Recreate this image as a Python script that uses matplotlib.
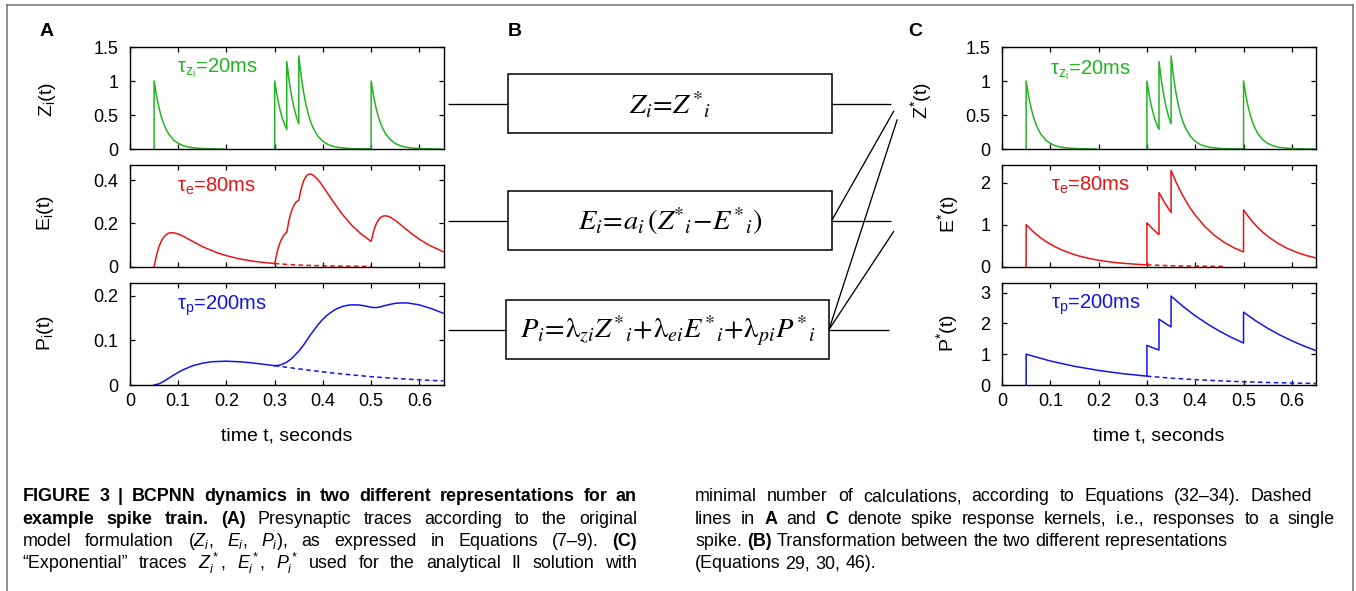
import matplotlib
matplotlib.use('Agg')
import matplotlib.pyplot as plt
from matplotlib.patches import Rectangle
from matplotlib.ticker import FuncFormatter

# ---------------- data ----------------
# Z trace (identical in A and C)
Z_t1 = [0.05, 0.05, 0.055, 0.06, 0.065, 0.07, 0.075, 0.08, 0.09, 0.10, 0.11, 0.12, 0.13, 0.15, 0.17, 0.195]
Z_v1 = [0, 1, 0.779, 0.607, 0.472, 0.368, 0.287, 0.223, 0.135, 0.082, 0.050, 0.030, 0.018, 0.007, 0.0025, 0]
Z_t2 = [0.30, 0.30, 0.305, 0.31, 0.315, 0.32, 0.325, 0.325, 0.33, 0.335, 0.34, 0.345, 0.35, 0.35,
        0.355, 0.36, 0.365, 0.37, 0.375, 0.38, 0.39, 0.40, 0.41, 0.42, 0.43, 0.45, 0.47, 0.50, 0.50,
        0.505, 0.51, 0.515, 0.52, 0.525, 0.53, 0.54, 0.55, 0.56, 0.57, 0.58, 0.60, 0.62, 0.645]
Z_v2 = [0, 1, 0.779, 0.607, 0.472, 0.368, 0.287, 1.287, 1.002, 0.781, 0.608, 0.473, 0.369, 1.369,
        1.066, 0.830, 0.647, 0.504, 0.392, 0.305, 0.185, 0.112, 0.068, 0.041, 0.025, 0.009, 0.003, 0.001, 1.0,
        0.779, 0.607, 0.472, 0.368, 0.287, 0.223, 0.135, 0.082, 0.050, 0.030, 0.018, 0.007, 0.0025, 0.0]

# E trace (panel A)
E_t1 = [0.05, 0.055, 0.06, 0.065, 0.07, 0.075, 0.08, 0.085, 0.09, 0.10, 0.11, 0.12, 0.13, 0.15, 0.17,
        0.185, 0.20, 0.225, 0.25, 0.275, 0.30]
E_v1 = [0, 0.0535, 0.092, 0.119, 0.137, 0.148, 0.155, 0.157, 0.157, 0.151, 0.141, 0.129, 0.117, 0.093,
        0.074, 0.061, 0.051, 0.037, 0.027, 0.020, 0.0146]
E_t2 = [0.30, 0.305, 0.31, 0.315, 0.32, 0.325, 0.33, 0.335, 0.34, 0.345, 0.35, 0.355, 0.36, 0.365, 0.37,
        0.375, 0.38, 0.39, 0.40, 0.42, 0.44, 0.46, 0.48, 0.50, 0.505, 0.51, 0.515, 0.52, 0.525, 0.53,
        0.535, 0.54, 0.55, 0.56, 0.57, 0.58, 0.60, 0.62, 0.65]
E_v2 = [0.0146, 0.0672, 0.1049, 0.131, 0.1484, 0.1591, 0.2182, 0.2587, 0.2848, 0.3001, 0.3073, 0.3618,
        0.3971, 0.4175, 0.4268, 0.4279, 0.4229, 0.4013, 0.3713, 0.3044, 0.2427, 0.1912, 0.1496, 0.1169,
        0.1634, 0.1953, 0.2159, 0.2281, 0.234, 0.2351, 0.2328, 0.2281, 0.2137, 0.1962, 0.1777, 0.1595,
        0.1268, 0.0996, 0.0688]
E_dash_t = [0.30, 0.325, 0.35, 0.375, 0.40, 0.45, 0.50]
E_dash_v = [0.0146, 0.0107, 0.0078, 0.0057, 0.0042, 0.0022, 0.0012]

# P trace (panel A)
P_t1 = [0.05, 0.06, 0.07, 0.08, 0.09, 0.10, 0.11, 0.13, 0.15, 0.17, 0.20, 0.23, 0.25, 0.275, 0.30]
P_v1 = [0, 0.0025, 0.0081, 0.0149, 0.0219, 0.0283, 0.0341, 0.0431, 0.0489, 0.0522, 0.0534, 0.0519,
        0.0499, 0.0468, 0.0433]
P_t2 = [0.30, 0.31, 0.32, 0.325, 0.335, 0.35, 0.36, 0.375, 0.39, 0.40, 0.41, 0.425, 0.44, 0.45, 0.46,
        0.475, 0.49, 0.50, 0.51, 0.52, 0.525, 0.54, 0.55, 0.56, 0.575, 0.60, 0.625, 0.65]
P_v2 = [0.0433, 0.0444, 0.0485, 0.0511, 0.0592, 0.0759, 0.0897, 0.1136, 0.1355, 0.1477, 0.1578, 0.1690,
        0.1759, 0.1785, 0.1797, 0.1794, 0.1767, 0.1743, 0.1734, 0.1754, 0.1771, 0.1809, 0.1831, 0.1839,
        0.1841, 0.1796, 0.1713, 0.1606]
P_dash_t = [0.30, 0.325, 0.35, 0.375, 0.40, 0.425, 0.45, 0.475, 0.50, 0.525, 0.55, 0.575, 0.60, 0.625, 0.65]
P_dash_v = [0.0433, 0.0397, 0.0361, 0.0327, 0.0294, 0.0264, 0.0236, 0.0211, 0.0187, 0.0167, 0.0148,
            0.0132, 0.0116, 0.0103, 0.0091]

# E* trace (panel C)
Es_t = [0.05, 0.05, 0.06, 0.07, 0.08, 0.09, 0.10, 0.12, 0.14, 0.16, 0.18, 0.20, 0.225, 0.25, 0.275, 0.30,
        0.30, 0.31, 0.32, 0.325, 0.325, 0.335, 0.345, 0.35, 0.35, 0.36, 0.37, 0.38, 0.39, 0.40, 0.42,
        0.44, 0.46, 0.48, 0.50, 0.50, 0.51, 0.52, 0.53, 0.54, 0.55, 0.57, 0.59, 0.61, 0.63, 0.65]
Es_v = [0, 1, 0.8825, 0.7788, 0.6873, 0.6065, 0.5353, 0.4169, 0.3247, 0.2528, 0.1969, 0.1534, 0.1122,
        0.0821, 0.0601, 0.0439, 1.0439, 0.9213, 0.8130, 0.7637, 1.7637, 1.5565, 1.3736, 1.2903, 2.2903,
        2.0212, 1.7837, 1.5742, 1.3892, 1.2260, 0.9548, 0.7436, 0.5791, 0.4510, 0.3513, 1.3513, 1.1925,
        1.0524, 0.9288, 0.8196, 0.7234, 0.5634, 0.4388, 0.3417, 0.2661, 0.2073]
Es_dash_t = [0.30, 0.35, 0.40, 0.46]
Es_dash_v = [0.0439, 0.0235, 0.0126, 0.0059]

# P* trace (panel C)
Ps_t = [0.05, 0.05, 0.10, 0.15, 0.20, 0.25, 0.30, 0.30, 0.3125, 0.325, 0.325, 0.3375, 0.35, 0.35, 0.375,
        0.40, 0.425, 0.45, 0.475, 0.50, 0.50, 0.525, 0.55, 0.575, 0.60, 0.625, 0.65]
Ps_v = [0, 1, 0.7788, 0.6065, 0.4724, 0.3679, 0.2865, 1.2865, 1.2069, 1.1353, 2.1353, 2.0059, 1.8844,
        2.8844, 2.5455, 2.2464, 1.9825, 1.7496, 1.5440, 1.3626, 2.3626, 2.0850, 1.8400, 1.6238, 1.4330,
        1.2646, 1.1160]
Ps_dash_t = [0.30, 0.35, 0.40, 0.45, 0.50, 0.55, 0.60, 0.65]
Ps_dash_v = [0.2865, 0.2231, 0.1738, 0.1353, 0.1054, 0.0821, 0.0639, 0.0498]

x_ticks = [0, 0.1, 0.2, 0.3, 0.4, 0.5, 0.6]
yt_Z = [0, 0.5, 1, 1.5]
yt_E = [0, 0.2, 0.4]
yt_P = [0, 0.1, 0.2]
yt_Es = [0, 1, 2]
yt_Ps = [0, 1, 2, 3]

eq_texts = [r'$Z_i\!=\!Z\,{}^{*}{}_{i}$',
            r'$E_i\!=\!a_i\,(Z{}^{*}{}_{i}\!-\!E\,{}^{*}{}_{i})$',
            r'$P_i\!=\!\mathrm{\lambda}_{zi}Z\,{}^{*}{}_{i}\!+\!\mathrm{\lambda}_{ei}E\,{}^{*}{}_{i}'
            r'\!+\!\mathrm{\lambda}_{pi}P\,{}^{*}{}_{i}$']

cap_left = [
    ([("FIGURE 3 | BCPNN dynamics in two different representations for an", "bold")], True),
    ([("example spike train. (A)", "bold"), ("Presynaptic traces according to the original", "normal")], True),
    ([("model formulation ($Z_i$, $E_i$, $P_i$), as expressed in Equations (7\u20139).", "normal"), ("(C)", "bold")], True),
    ([("\u201cExponential\u201d traces $Z_i^*$, $E_i^*$, $P_i^*$ used for the analytical II solution with", "normal")], True),
]
cap_right = [
    ([("minimal number of calculations, according to Equations (32\u201334). Dashed", "normal")], True),
    ([("lines in", "normal"), ("A", "bold"), ("and", "normal"), ("C", "bold"),
      ("denote spike response kernels, i.e., responses to a single", "normal")], True),
    ([("spike.", "normal"), ("(B)", "bold"), ("Transformation between the two different representations", "normal")], False),
    ([("(Equations 29, 30, 46).", "normal")], False),
]

# ---------------- style ----------------
plt.rcParams.update({
    'font.family': ['Liberation Sans', 'DejaVu Sans'],
    'mathtext.fontset': 'custom',
    'mathtext.rm': 'Liberation Sans',
    'mathtext.it': 'Liberation Sans:italic',
    'mathtext.bf': 'Liberation Sans:bold',
    'mathtext.sf': 'Liberation Sans',
})
GREEN = '#22b422'
RED = '#e81414'
BLUE = '#1414e6'
LW = 1.1
DASH = (0, (3.0, 2.2))
TICK_FS = 13
LAB_FS = 14
TAU_FS = 14.5

W, H = 1356, 591
fig = plt.figure(figsize=(W / 100, H / 100), dpi=100)
fig.patch.set_facecolor('white')


def px_axes(x0, y0, x1, y1):
    return fig.add_axes([x0 / W, 1 - y1 / H, (x1 - x0) / W, (y1 - y0) / H])


fmt = FuncFormatter(lambda v, p: '%g' % v)


def style(ax, ytop, yticks, bottom):
    ax.set_xlim(0, 0.65)
    ax.set_ylim(0, ytop)
    ax.set_xticks(x_ticks)
    ax.set_yticks(yticks)
    ax.xaxis.set_major_formatter(fmt)
    ax.yaxis.set_major_formatter(fmt)
    ax.tick_params(direction='in', length=3.8, width=0.9, top=True, right=True,
                   labelsize=TICK_FS, colors='black')
    ax.tick_params(axis='y', pad=8.5)
    ax.tick_params(axis='x', pad=5.5, labelbottom=bottom)
    for s in ax.spines.values():
        s.set_linewidth(1.0)


XA0, XA1 = 130, 443.5
XC0, XC1 = 1002, 1316
ROWS = [(47, 149), (165, 266.7), (283.3, 385)]

axZ = px_axes(XA0, ROWS[0][0], XA1, ROWS[0][1])
axE = px_axes(XA0, ROWS[1][0], XA1, ROWS[1][1])
axP = px_axes(XA0, ROWS[2][0], XA1, ROWS[2][1])
axZs = px_axes(XC0, ROWS[0][0], XC1, ROWS[0][1])
axEs = px_axes(XC0, ROWS[1][0], XC1, ROWS[1][1])
axPs = px_axes(XC0, ROWS[2][0], XC1, ROWS[2][1])

for ax in (axZ, axZs):
    ax.plot(Z_t1, Z_v1, color=GREEN, lw=LW)
    ax.plot(Z_t2, Z_v2, color=GREEN, lw=LW)
    style(ax, 1.5, yt_Z, False)

axE.plot(E_dash_t, E_dash_v, color=RED, lw=LW, ls=DASH)
axE.plot(E_t1, E_v1, color=RED, lw=LW)
axE.plot(E_t2, E_v2, color=RED, lw=LW)
style(axE, 0.47, yt_E, False)

axP.plot(P_dash_t, P_dash_v, color=BLUE, lw=LW, ls=DASH)
axP.plot(P_t1, P_v1, color=BLUE, lw=LW)
axP.plot(P_t2, P_v2, color=BLUE, lw=LW)
style(axP, 0.228, yt_P, True)

axEs.plot(Es_dash_t, Es_dash_v, color=RED, lw=LW, ls=DASH)
axEs.plot(Es_t, Es_v, color=RED, lw=LW)
style(axEs, 2.42, yt_Es, False)

axPs.plot(Ps_dash_t, Ps_dash_v, color=BLUE, lw=LW, ls=DASH)
axPs.plot(Ps_t, Ps_v, color=BLUE, lw=LW)
style(axPs, 3.3, yt_Ps, True)

# ---------------- overlay in pixel coordinates ----------------
ov = fig.add_axes([0, 0, 1, 1])
ov.set_xlim(0, W)
ov.set_ylim(H, 0)
ov.axis('off')

FR = '#707070'
ov.plot([7, 7], [H + 2, 5], color=FR, lw=1.1)
ov.plot([7, 1353], [5, 5], color=FR, lw=1.1)
ov.plot([1353, 1353], [5, H + 2], color=FR, lw=1.1)

for lab, x in (('A', 47), ('B', 515), ('C', 915)):
    ov.text(x, 32, lab, fontsize=14, fontweight='bold', ha='center', va='center')

ylabels = [(47, 100, r'Z$_\mathregular{i}$(t)'), (46, 213, r'E$_\mathregular{i}$(t)'),
           (46, 333, r'P$_\mathregular{i}$(t)'),
           (921, 100, r'Z$^\mathregular{*}$(t)'), (948, 214, r'E$^\mathregular{*}$(t)'),
           (947, 333, r'P$^\mathregular{*}$(t)')]
for x, y, s in ylabels:
    ov.text(x, y, s, fontsize=LAB_FS, rotation=90, ha='center', va='center')

for xc in ((XA0 + XA1) / 2, (XC0 + XC1) / 2):
    ov.text(xc, 436, 'time t, seconds', fontsize=LAB_FS, ha='center', va='center')

taus = [(177, 72, r'$\mathregular{\tau_{z_i}}$=20ms', GREEN), (177, 191.5, r'$\mathregular{\tau_e}$=80ms', RED),
        (177, 310, r'$\mathregular{\tau_p}$=200ms', BLUE),
        (1050, 74, r'$\mathregular{\tau_{z_i}}$=20ms', GREEN), (1051, 190.5, r'$\mathregular{\tau_e}$=80ms', RED),
        (1051, 308.5, r'$\mathregular{\tau_p}$=200ms', BLUE)]
for x, y, s, c in taus:
    ov.text(x, y, s, fontsize=TAU_FS, color=c, ha='left', va='baseline')

boxes = [(508.3, 74.3, 831.7, 133.3), (508.3, 191, 831.7, 250), (505.7, 300, 829, 359)]
for (x0, y0, x1, y1), eq in zip(boxes, eq_texts):
    ov.add_patch(Rectangle((x0, y0), x1 - x0, y1 - y0, fill=False, ec='black', lw=1.1))
    ov.text((x0 + x1) / 2, (y0 + y1) / 2 + 1, eq, fontsize=20.5, math_fontfamily='stix',
            ha='center', va='center')

CL = dict(color='black', lw=0.95, solid_capstyle='butt')
for (x0, y0, x1, y1) in boxes:
    yc = (y0 + y1) / 2
    ov.plot([448.3, x0], [yc, yc], **CL)
    ov.plot([x1, x1 + 59.5], [yc, yc], **CL)
ov.plot([831.7, 894], [220.5, 110.7], **CL)
ov.plot([829, 897.3], [329.5, 119.3], **CL)
ov.plot([829, 894], [329.5, 231], **CL)

# ---------------- caption (justified) ----------------
renderer = fig.canvas.get_renderer()
CAP_FONT = 'Liberation Sans'


def measure(s, size, wt):
    t = ov.text(0, 0, s, fontsize=size, fontweight=wt, family=CAP_FONT)
    w = t.get_window_extent(renderer).width
    t.remove()
    return w


def natural_width(segs, size):
    words = [(w, wt) for txt, wt in segs for w in txt.split(' ')]
    sp = measure('x x', size, 'normal') - measure('xx', size, 'normal')
    return sum(measure(w, size, wt) for w, wt in words) + sp * (len(words) - 1)


ref_size = 10.0
cap_size = ref_size * (1232 - 695) / natural_width(cap_right[2][0], ref_size)
LEFT_X0, LEFT_X1 = 22.5, 637
RIGHT_X0 = 695
right_ends = [1312, 1334, 1334, 1334]
for segs, just in cap_left:
    if just:
        cap_size = min(cap_size, ref_size * (LEFT_X1 - LEFT_X0) / natural_width(segs, ref_size))
for (segs, just), xe in zip(cap_right, right_ends):
    if just:
        cap_size = min(cap_size, ref_size * (xe - RIGHT_X0) / natural_width(segs, ref_size))


def draw_line(segs, x0, x1, y, justify, size):
    words = [(w, wt) for txt, wt in segs for w in txt.split(' ')]
    arts = [ov.text(0, y, w, fontsize=size, fontweight=wt, family=CAP_FONT, ha='left', va='baseline')
            for w, wt in words]
    widths = [a.get_window_extent(renderer).width for a in arts]
    if justify and len(arts) > 1:
        gap = (x1 - x0 - sum(widths)) / (len(arts) - 1)
    else:
        gap = measure('x x', size, 'normal') - measure('xx', size, 'normal')
    x = x0
    for a, w in zip(arts, widths):
        a.set_x(x)
        x += w + gap


baselines = [501, 523.5, 546, 568.5]
for (segs, just), yb in zip(cap_left, baselines):
    draw_line(segs, LEFT_X0, LEFT_X1, yb, just, cap_size)
for (segs, just), yb, xe in zip(cap_right, baselines, right_ends):
    draw_line(segs, RIGHT_X0, xe, yb, just, cap_size)

fig.savefig('out.png', dpi=100, facecolor='white')
